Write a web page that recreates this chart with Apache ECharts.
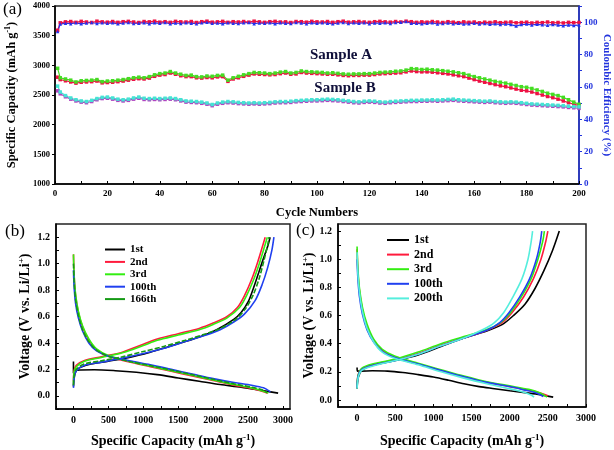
<!DOCTYPE html>
<html><head><meta charset="utf-8">
<script src="https://cdn.jsdelivr.net/npm/echarts@6/dist/echarts.min.js"></script>
<style>html,body{margin:0;padding:0;background:#fff}#c{width:614px;height:450px}</style>
</head><body><div id="c"></div>
<script>
// ---------- Panel (a) data ----------
const cycles = [1,
2,4,6,8,10,12,14,16,18,20,
22,24,26,28,30,32,34,36,38,40,
42,44,46,48,50,52,54,56,58,60,
62,64,66,68,70,72,74,76,78,80,
82,84,86,88,90,92,94,96,98,100,
102,104,106,108,110,112,114,116,118,120,
122,124,126,128,130,132,134,136,138,140,
142,144,146,148,150,152,154,156,158,160,
162,164,166,168,170,172,174,176,178,180,
182,184,186,188,190,192,194,196,198,200];

const capA_charge = [2950,
2790,2770,2750,2720,2740,2745,2750,2760,2725,2735,
2740,2750,2760,2775,2790,2800,2790,2810,2840,2860,
2870,2895,2870,2850,2830,2835,2810,2805,2820,2815,
2830,2835,2750,2790,2815,2840,2860,2880,2875,2870,
2860,2870,2885,2895,2870,2880,2905,2895,2890,2885,
2880,2870,2875,2865,2855,2850,2855,2855,2860,2860,
2870,2880,2885,2890,2900,2905,2920,2945,2940,2930,
2935,2925,2920,2910,2900,2890,2875,2860,2835,2810,
2790,2770,2750,2730,2715,2700,2680,2660,2640,2630,
2610,2585,2560,2530,2510,2490,2460,2420,2380,2345];

const capA_discharge = [2800,
2760,2740,2720,2700,2715,2720,2725,2735,2705,2710,
2715,2725,2735,2750,2765,2775,2770,2785,2815,2835,
2845,2870,2850,2825,2810,2810,2790,2785,2795,2790,
2805,2810,2730,2770,2790,2815,2835,2855,2850,2845,
2840,2845,2860,2870,2850,2855,2880,2870,2865,2860,
2855,2850,2850,2840,2830,2825,2830,2830,2835,2835,
2845,2855,2860,2865,2870,2875,2890,2905,2895,2890,
2890,2885,2875,2865,2855,2840,2825,2810,2785,2760,
2735,2715,2695,2675,2655,2640,2620,2600,2580,2570,
2550,2525,2500,2475,2455,2430,2400,2370,2345,2320];

const capB_charge = [2650,
2550,2490,2450,2420,2400,2390,2410,2440,2460,2465,
2450,2430,2420,2430,2450,2465,2445,2440,2445,2440,
2445,2450,2440,2420,2400,2395,2390,2380,2365,2340,
2365,2380,2390,2385,2375,2370,2365,2370,2365,2370,
2375,2385,2390,2390,2395,2405,2410,2415,2420,2420,
2425,2430,2425,2420,2410,2400,2390,2385,2395,2400,
2395,2385,2380,2390,2395,2400,2405,2410,2410,2415,
2415,2420,2415,2420,2425,2430,2420,2415,2410,2405,
2400,2395,2400,2390,2385,2380,2385,2380,2370,2360,
2350,2345,2340,2335,2330,2325,2320,2310,2305,2300];

const capB_discharge = [2570,
2520,2470,2430,2400,2380,2370,2390,2420,2440,2445,
2430,2410,2400,2410,2430,2445,2425,2420,2425,2420,
2425,2430,2420,2400,2380,2375,2370,2360,2345,2320,
2345,2360,2370,2365,2355,2350,2345,2350,2345,2350,
2355,2365,2370,2370,2375,2385,2390,2395,2400,2400,
2405,2410,2405,2400,2390,2380,2370,2365,2375,2380,
2375,2365,2360,2370,2375,2380,2385,2390,2390,2395,
2395,2400,2395,2400,2405,2410,2400,2395,2390,2385,
2380,2375,2380,2370,2365,2360,2365,2360,2350,2340,
2330,2325,2320,2315,2310,2305,2300,2290,2285,2275];

const ceRed = [95.0,
99.6,100.2,100.4,99.9,100.5,100.1,99.8,100.6,100.2,100.0,
100.4,99.9,100.3,100.5,100.1,99.8,100.4,100.2,100.6,100.0,
100.3,99.9,100.5,100.2,100.1,100.4,99.8,100.3,100.6,100.0,
100.2,100.5,99.9,100.3,100.1,100.4,100.0,100.6,100.2,99.9,
100.3,100.5,100.1,100.2,99.8,100.4,100.3,100.0,100.5,100.2,
100.1,100.4,99.9,100.3,100.6,100.0,100.2,100.4,100.1,99.9,
100.3,100.5,100.2,100.0,100.4,100.1,100.6,100.3,99.9,100.2,
100.0,100.4,100.1,99.8,100.3,100.0,99.7,100.2,99.9,100.1,
99.6,100.0,99.8,100.2,99.7,99.9,100.1,99.6,99.8,100.0,
99.5,99.9,99.7,100.1,99.6,99.8,99.5,99.9,99.7,99.8];

const ceBlue = [94.2,
98.8,99.4,99.1,99.6,99.0,99.5,99.8,99.2,99.7,99.3,
99.6,99.0,99.5,99.8,99.2,99.4,99.7,99.1,99.6,99.3,
99.8,99.0,99.5,99.2,99.7,99.4,99.1,99.6,99.9,99.3,
99.5,99.0,99.7,99.4,99.2,99.6,99.8,99.1,99.5,99.3,
99.7,99.0,99.6,99.4,99.2,99.8,99.5,99.1,99.6,99.3,
99.7,99.4,99.0,99.5,99.8,99.2,99.6,99.3,99.7,99.1,
99.5,99.4,99.6,99.2,99.8,99.9,100.4,99.3,99.4,99.0,
99.3,99.6,98.9,99.2,99.5,99.0,99.3,98.8,99.1,99.4,
98.9,99.2,98.7,99.0,98.6,98.9,98.5,97.6,98.5,98.8,
98.3,98.7,98.4,98.1,98.6,98.2,97.8,98.3,98.0,98.2];

// ---------- Panel (b) data: [capacity mAh/g, voltage V] ----------
const b1_dis = [[0,0.26],[0,0.17],[30,0.19],[100,0.195],[300,0.197],[600,0.19],[900,0.178],[1200,0.16],[1500,0.135],[1800,0.11],[2100,0.085],[2400,0.065],[2700,0.04],[2930,0.02]];
const b1_chg = [[0,0.07],[10,0.14],[40,0.19],[100,0.215],[250,0.24],[500,0.262],[800,0.29],[1100,0.33],[1350,0.37],[1600,0.41],[1850,0.455],[2050,0.5],[2300,0.58],[2400,0.63],[2500,0.71],[2580,0.82],[2650,0.93],[2720,1.04],[2780,1.13],[2815,1.2]];
const b2_dis = [[0,1.07],[10,0.9],[30,0.76],[70,0.63],[130,0.52],[220,0.42],[330,0.35],[500,0.3],[800,0.255],[1100,0.22],[1400,0.185],[1700,0.15],[2000,0.115],[2300,0.08],[2550,0.055],[2700,0.035],[2780,0.02]];
const b2_chg = [[0,0.11],[10,0.19],[40,0.23],[150,0.265],[400,0.295],[700,0.33],[1000,0.39],[1200,0.43],[1500,0.47],[1800,0.51],[2000,0.55],[2200,0.6],[2350,0.67],[2450,0.76],[2550,0.88],[2630,1.0],[2700,1.12],[2745,1.2]];
const b3_dis = [[0,1.07],[10,0.91],[30,0.77],[70,0.64],[130,0.53],[220,0.43],[330,0.355],[500,0.305],[800,0.26],[1100,0.225],[1400,0.19],[1700,0.155],[2000,0.12],[2300,0.085],[2550,0.06],[2720,0.035],[2790,0.02]];
const b3_chg = [[0,0.1],[10,0.18],[40,0.22],[150,0.26],[400,0.29],[700,0.325],[1000,0.38],[1200,0.42],[1500,0.46],[1800,0.5],[2000,0.54],[2200,0.59],[2380,0.67],[2480,0.76],[2580,0.88],[2660,1.0],[2730,1.12],[2775,1.2]];
const b100_dis = [[0,0.95],[10,0.82],[30,0.7],[70,0.59],[130,0.49],[220,0.4],[330,0.34],[500,0.3],[800,0.265],[1100,0.235],[1400,0.2],[1700,0.165],[2000,0.13],[2300,0.1],[2550,0.08],[2720,0.06],[2820,0.03]];
const b100_chg = [[0,0.06],[10,0.13],[40,0.19],[150,0.23],[400,0.255],[700,0.285],[1000,0.32],[1300,0.36],[1600,0.41],[1900,0.46],[2100,0.5],[2300,0.56],[2450,0.62],[2600,0.72],[2700,0.84],[2780,0.97],[2840,1.1],[2870,1.2]];
const b166_dis = [[0,1.0],[10,0.86],[30,0.73],[70,0.61],[130,0.5],[220,0.41],[330,0.345],[500,0.3],[800,0.26],[1100,0.228],[1400,0.195],[1700,0.16],[2000,0.125],[2300,0.09],[2550,0.065],[2700,0.045],[2770,0.025]];
const b166_chg = [[0,0.08],[10,0.15],[40,0.2],[150,0.24],[400,0.265],[700,0.295],[1000,0.335],[1300,0.375],[1600,0.42],[1900,0.47],[2100,0.51],[2300,0.57],[2450,0.65],[2570,0.76],[2660,0.89],[2730,1.03],[2780,1.14],[2800,1.2]];

// ---------- Panel (c) data ----------
const c1_dis = [[0,0.23],[3,0.205],[50,0.205],[200,0.207],[400,0.205],[600,0.195],[800,0.18],[1000,0.163],[1200,0.14],[1400,0.115],[1600,0.095],[1800,0.08],[2000,0.065],[2200,0.052],[2400,0.038],[2570,0.02]];
const c1_chg = [[0,0.08],[15,0.16],[60,0.21],[200,0.245],[500,0.28],[800,0.32],[1100,0.38],[1400,0.44],[1700,0.49],[1900,0.535],[2050,0.6],[2200,0.68],[2330,0.79],[2450,0.92],[2560,1.06],[2650,1.2]];
const c2_dis = [[0,1.07],[10,0.92],[30,0.78],[70,0.64],[130,0.52],[220,0.42],[330,0.35],[500,0.3],[800,0.255],[1100,0.21],[1400,0.165],[1700,0.125],[2000,0.095],[2250,0.07],[2400,0.05],[2500,0.03]];
const c2_chg = [[0,0.1],[15,0.18],[60,0.22],[200,0.25],[500,0.285],[800,0.33],[1100,0.39],[1400,0.44],[1700,0.495],[1900,0.55],[2030,0.62],[2180,0.73],[2310,0.86],[2410,1.0],[2470,1.12],[2500,1.2]];
const c3_dis = [[0,1.09],[10,0.94],[30,0.8],[70,0.66],[130,0.54],[220,0.43],[330,0.36],[500,0.31],[800,0.26],[1100,0.215],[1400,0.17],[1700,0.13],[2000,0.1],[2250,0.075],[2400,0.05],[2490,0.02]];
const c3_chg = [[0,0.1],[15,0.18],[60,0.225],[200,0.255],[500,0.29],[800,0.34],[1100,0.4],[1400,0.45],[1700,0.5],[1880,0.55],[2010,0.62],[2150,0.73],[2280,0.86],[2370,1.0],[2430,1.12],[2455,1.2]];
const c100_dis = [[0,1.0],[10,0.87],[30,0.74],[70,0.61],[130,0.5],[220,0.41],[330,0.345],[500,0.3],[800,0.255],[1100,0.21],[1400,0.165],[1700,0.125],[2000,0.095],[2200,0.07],[2350,0.05],[2440,0.025]];
const c100_chg = [[0,0.09],[15,0.17],[60,0.215],[200,0.245],[500,0.28],[800,0.325],[1100,0.385],[1400,0.44],[1700,0.495],[1870,0.55],[1990,0.62],[2130,0.73],[2260,0.86],[2350,1.0],[2400,1.12],[2420,1.2]];
const c200_dis = [[0,1.05],[10,0.9],[30,0.77],[70,0.63],[130,0.51],[220,0.41],[330,0.34],[500,0.295],[800,0.25],[1100,0.2],[1400,0.155],[1700,0.115],[1950,0.085],[2150,0.06],[2280,0.035],[2320,0.02]];
const c200_chg = [[0,0.08],[15,0.16],[60,0.21],[200,0.24],[500,0.28],[800,0.325],[1100,0.385],[1400,0.44],[1650,0.5],[1800,0.55],[1920,0.62],[2040,0.73],[2160,0.86],[2240,1.0],[2280,1.12],[2300,1.2]];

// ---------- tick labels ----------
const capTicksA = [1000,1500,2000,2500,3000,3500,4000];
const cycleTicks = [0,20,40,60,80,100,120,140,160,180,200];
const cycleMinor = [0,10,20,30,40,50,60,70,80,90,100,110,120,130,140,150,160,170,180,190,200];
const ceTicks = [0,20,40,60,80,100];
const ceMinor = [0,10,20,30,40,50,60,70,80,90,100,110];
const voltTicks = [0,0.2,0.4,0.6,0.8,1.0,1.2];
const voltMinor = [-0.1,0,0.1,0.2,0.3,0.4,0.5,0.6,0.7,0.8,0.9,1.0,1.1,1.2];
const capTicksBC = [0,500,1000,1500,2000,2500,3000];
const capMinorBC = [-250,0,250,500,750,1000,1250,1500,1750,2000,2250,2500,2750,3000];
const legendB = ['1st','2nd','3rd','100th','166th'];
const legendC = ['1st','2nd','3rd','100th','200th'];

const F = '"Liberation Serif","Times New Roman",serif';
const BLUE = '#2233dd';
const lbl = (size, color) => ({fontFamily:F, fontWeight:'bold', fontSize:size, color:color||'#000'});
const supRich = (size) => ({sup:{fontFamily:F, fontWeight:'bold', fontSize:size, padding:[0,0,size-1,0]}});
const plain = v => String(v);

function valAxis(o){
  return Object.assign({type:'value', splitLine:{show:false}, nameMoveOverlap:false,
    axisLine:{show:true, onZero:false, lineStyle:{color:'#000', width:1.5}}}, o);
}

const pairs = (arr) => cycles.map((c,i)=>[c, arr[i]]);

const colors = {black:'#000000', red:'#ff1a3c', green:'#33ee11', blue:'#2040f0', dkgreen:'#159a15', cyan:'#55eedd'};

function vline(name, data, xi, yi, color, dashed){
  return {type:'line', name, data, xAxisIndex:xi, yAxisIndex:yi, symbol:'none', smooth:0.3,
    lineStyle:{color, width:1.6, type: dashed ? [5,2] : 'solid'}, itemStyle:{color}, z:3};
}
function cline(name, data, yi, color, sym){
  return {type:'line', name, data:pairs(data), xAxisIndex:0, yAxisIndex:yi, symbol:sym||'rect', symbolSize:3.5,
    showSymbol:true, lineStyle:{color, width:1.2}, itemStyle:{color}};
}

const chart = echarts.init(document.getElementById('c'), null, {renderer:'canvas'});
chart.setOption({
  animation:false,
  backgroundColor:'#fff',
  grid:[
    {left:55, top:6, width:524, height:178, show:true, borderColor:'#222', borderWidth:1.5, outerBoundsMode:'none', containLabel:false},
    {left:56, top:224, width:234, height:185, show:true, borderColor:'#222', borderWidth:1.5, outerBoundsMode:'none', containLabel:false},
    {left:338, top:224, width:248, height:183, show:true, borderColor:'#222', borderWidth:1.5, outerBoundsMode:'none', containLabel:false}
  ],
  xAxis:[
    valAxis({gridIndex:0, min:0, max:200,
      axisLabel:{customValues:cycleTicks, formatter:plain, ...lbl(9), margin:5},
      axisTick:{customValues:cycleMinor, inside:true, length:3, lineStyle:{color:'#000'}},
      name:'Cycle Numbers', nameLocation:'middle', nameGap:22,
      nameTextStyle:{...lbl(12.5)}}),
    valAxis({gridIndex:1, min:-250, max:3100,
      axisLabel:{customValues:capTicksBC, formatter:plain, ...lbl(10), margin:6},
      axisTick:{customValues:capMinorBC, inside:true, length:3, lineStyle:{color:'#000'}},
      name:'Specific Capacity (mAh g{sup|-1})', nameLocation:'middle', nameGap:24,
      nameTextStyle:{...lbl(14), rich:supRich(9)}}),
    valAxis({gridIndex:2, min:-250, max:3000,
      axisLabel:{customValues:capTicksBC, formatter:plain, ...lbl(10), margin:6},
      axisTick:{customValues:capMinorBC, inside:true, length:3, lineStyle:{color:'#000'}},
      name:'Specific Capacity (mAh g{sup|-1})', nameLocation:'middle', nameGap:26,
      nameTextStyle:{...lbl(14), rich:supRich(9)}})
  ],
  yAxis:[
    valAxis({gridIndex:0, min:1000, max:4000, position:'left',
      axisLabel:{customValues:capTicksA, formatter:plain, ...lbl(8.5), margin:5},
      axisTick:{customValues:capTicksA, length:3, lineStyle:{color:'#000'}},
      name:'Specific Capacity (mAh g{sup|-1})', nameLocation:'middle', nameGap:36,
      nameTextStyle:{...lbl(12.5), rich:supRich(8)}}),
    valAxis({gridIndex:0, min:0, max:110, position:'right',
      axisLine:{show:true, onZero:false, lineStyle:{color:BLUE, width:1.5}},
      axisLabel:{customValues:ceTicks, formatter:plain, ...lbl(9, BLUE), margin:5},
      axisTick:{customValues:ceMinor, length:3, lineStyle:{color:BLUE}},
      name:'Coulombic Efficiency (%)', nameLocation:'middle', nameGap:22, nameRotate:-90,
      nameTextStyle:{...lbl(11, BLUE)}}),
    valAxis({gridIndex:1, min:-0.1, max:1.3,
      axisLabel:{customValues:voltTicks, formatter:v=>v.toFixed(1), ...lbl(10), margin:6},
      axisTick:{customValues:voltMinor, inside:true, length:3, lineStyle:{color:'#000'}},
      name:'Voltage (V vs. Li/Li{sup|+})', nameLocation:'middle', nameGap:22,
      nameTextStyle:{...lbl(14), rich:supRich(9)}}),
    valAxis({gridIndex:2, min:-0.05, max:1.25,
      axisLabel:{customValues:voltTicks, formatter:v=>v.toFixed(1), ...lbl(10), margin:6},
      axisTick:{customValues:voltMinor.slice(1), inside:true, length:3, lineStyle:{color:'#000'}},
      name:'Voltage (V vs. Li/Li{sup|+})', nameLocation:'middle', nameGap:20,
      nameTextStyle:{...lbl(14), rich:supRich(9)}})
  ],
  legend:[
    {data:legendB, left:100, top:239, orient:'vertical', icon:'rect', itemWidth:20, itemHeight:2, itemGap:1.4,
     textStyle:{...lbl(11)}, selectedMode:false},
    {data:legendC, left:382, top:229, orient:'vertical', icon:'rect', itemWidth:22, itemHeight:2, itemGap:2.6,
     textStyle:{...lbl(12)}, selectedMode:false}
  ],
  graphic:[
    {type:'text', left:3, top:1, style:{text:'(a)', font:'17px '+F, fill:'#000'}},
    {type:'text', left:5, top:223, style:{text:'(b)', font:'17px '+F, fill:'#000'}},
    {type:'text', left:296, top:222, style:{text:'(c)', font:'17px '+F, fill:'#000'}},
    {type:'text', x:341, y:55, style:{text:'Sample A', font:'bold 15px '+F, fill:'#10103a', align:'center', verticalAlign:'middle'}},
    {type:'text', x:345, y:88, style:{text:'Sample B', font:'bold 15px '+F, fill:'#10103a', align:'center', verticalAlign:'middle'}}
  ],
  series:[
    cline('A discharge', capA_discharge, 0, '#ee1144'),
    cline('A charge', capA_charge, 0, '#44dd22'),
    cline('B discharge', capB_discharge, 0, '#b044c0'),
    cline('B charge', capB_charge, 0, '#44e4d4'),
    cline('CE red', ceRed, 1, '#ee1144'),
    cline('CE blue', ceBlue, 1, '#2233ee', 'triangle'),
    // panel b
    vline('1st', b1_dis, 1, 2, colors.black), vline('1st', b1_chg, 1, 2, colors.black),
    vline('2nd', b2_dis, 1, 2, colors.red), vline('2nd', b2_chg, 1, 2, colors.red),
    vline('3rd', b3_dis, 1, 2, colors.green), vline('3rd', b3_chg, 1, 2, colors.green),
    vline('100th', b100_dis, 1, 2, colors.blue), vline('100th', b100_chg, 1, 2, colors.blue),
    vline('166th', b166_dis, 1, 2, colors.dkgreen, true), vline('166th', b166_chg, 1, 2, colors.dkgreen, true),
    // panel c
    vline('1st', c1_dis, 2, 3, colors.black), vline('1st', c1_chg, 2, 3, colors.black),
    vline('2nd', c2_dis, 2, 3, colors.red), vline('2nd', c2_chg, 2, 3, colors.red),
    vline('3rd', c3_dis, 2, 3, colors.green), vline('3rd', c3_chg, 2, 3, colors.green),
    vline('100th', c100_dis, 2, 3, colors.blue), vline('100th', c100_chg, 2, 3, colors.blue),
    vline('200th', c200_dis, 2, 3, colors.cyan), vline('200th', c200_chg, 2, 3, colors.cyan)
  ]
});
</script></body></html>
